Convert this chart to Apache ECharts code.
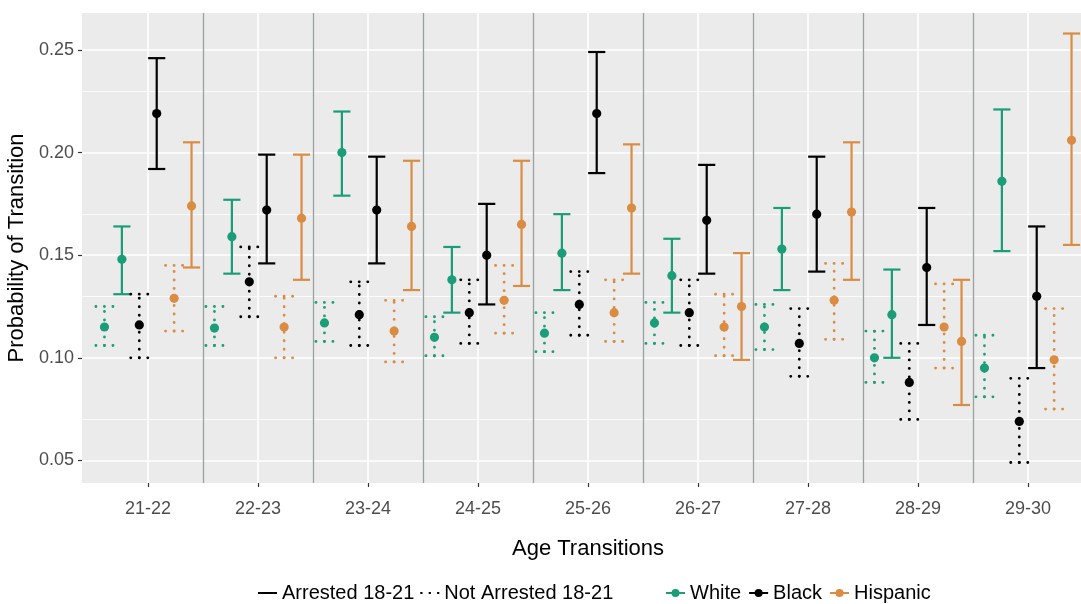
<!DOCTYPE html>
<html>
<head>
<meta charset="utf-8">
<script src="https://cdn.jsdelivr.net/npm/echarts@6/dist/echarts.min.js"></script>
<style>
  html, body { margin: 0; padding: 0; background: #fff; }
  #chart { width: 1081px; height: 604px; }
</style>
</head>
<body>
<div id="chart"></div>
<script>
// age transitions on the x axis
const categories = ['21-22', '22-23', '23-24', '24-25', '25-26', '26-27', '27-28', '28-29', '29-30'];
const yTicks = [0.05, 0.10, 0.15, 0.20, 0.25];
const yMinor = [0.075, 0.125, 0.175, 0.225];

// White, not arrested 18-21
const whiteNotMid  = [0.115, 0.1145, 0.117, 0.110, 0.112, 0.117, 0.115, 0.100, 0.095];
const whiteNotLow  = [0.106, 0.106, 0.108, 0.101, 0.103, 0.107, 0.104, 0.088, 0.081];
const whiteNotHigh = [0.125, 0.125, 0.127, 0.120, 0.122, 0.127, 0.126, 0.113, 0.111];
// White, arrested 18-21
const whiteArrMid  = [0.148, 0.159, 0.200, 0.138, 0.151, 0.140, 0.153, 0.121, 0.186];
const whiteArrLow  = [0.131, 0.141, 0.179, 0.122, 0.133, 0.122, 0.133, 0.100, 0.152];
const whiteArrHigh = [0.164, 0.177, 0.220, 0.154, 0.170, 0.158, 0.173, 0.143, 0.221];
// Black, not arrested 18-21
const blackNotMid  = [0.116, 0.137, 0.121, 0.122, 0.126, 0.122, 0.107, 0.088, 0.069];
const blackNotLow  = [0.100, 0.120, 0.106, 0.107, 0.111, 0.106, 0.091, 0.070, 0.049];
const blackNotHigh = [0.131, 0.154, 0.137, 0.138, 0.142, 0.138, 0.124, 0.107, 0.090];
// Black, arrested 18-21
const blackArrMid  = [0.219, 0.172, 0.172, 0.150, 0.219, 0.167, 0.170, 0.144, 0.130];
const blackArrLow  = [0.192, 0.146, 0.146, 0.126, 0.190, 0.141, 0.142, 0.116, 0.095];
const blackArrHigh = [0.246, 0.199, 0.198, 0.175, 0.249, 0.194, 0.198, 0.173, 0.164];
// Hispanic, not arrested 18-21
const hispNotMid  = [0.129, 0.115, 0.113, 0.128, 0.122, 0.115, 0.128, 0.115, 0.099];
const hispNotLow  = [0.113, 0.100, 0.098, 0.112, 0.108, 0.101, 0.109, 0.095, 0.075];
const hispNotHigh = [0.145, 0.130, 0.128, 0.145, 0.138, 0.131, 0.146, 0.136, 0.124];
// Hispanic, arrested 18-21
const hispArrMid  = [0.174, 0.168, 0.164, 0.165, 0.173, 0.125, 0.171, 0.108, 0.206];
const hispArrLow  = [0.144, 0.138, 0.133, 0.135, 0.141, 0.099, 0.138, 0.077, 0.155];
const hispArrHigh = [0.205, 0.199, 0.196, 0.196, 0.204, 0.151, 0.205, 0.138, 0.258];

const GREEN = '#1b9e77', BLACK = '#000000', ORANGE = '#d98c42';
const DODGE = 0.95;

function toRows(low, mid, high) {
  return categories.map(function (c, i) { return [i + 1, low[i], mid[i], high[i]]; });
}

// error bar with point, slot 0..5 inside the dodge group
function errorBar(name, slot, color, dotted, low, mid, high) {
  return {
    name: name,
    type: 'custom',
    z: 5,
    silent: true,
    data: toRows(low, mid, high),
    renderItem: function (params, api) {
      const band = api.size([1, 0])[0];
      const dx = (slot - 2.5) * DODGE / 6 * band;
      const half = 0.078 * band;
      const pLo = api.coord([api.value(0), api.value(1)]);
      const pMid = api.coord([api.value(0), api.value(2)]);
      const pHi = api.coord([api.value(0), api.value(3)]);
      const cx = pMid[0] + dx;
      const style = dotted
        ? { stroke: color, lineWidth: 2.8, lineDash: [0.1, 8.4], lineCap: 'round' }
        : { stroke: color, lineWidth: 2.2 };
      return {
        type: 'group',
        children: [
          { type: 'line', shape: { x1: cx, y1: pLo[1], x2: cx, y2: pHi[1] }, style: style },
          { type: 'line', shape: { x1: cx - half, y1: pHi[1], x2: cx + half, y2: pHi[1] }, style: style },
          { type: 'line', shape: { x1: cx - half, y1: pLo[1], x2: cx + half, y2: pLo[1] }, style: style },
          { type: 'circle', shape: { cx: cx, cy: pMid[1], r: 4.6 }, style: { fill: color } }
        ]
      };
    }
  };
}

// grid lines and category dividers
const gridLines = [];
yMinor.forEach(function (v) { gridLines.push({ yAxis: v, lineStyle: { color: '#ffffff', width: 0.8, type: 'solid' } }); });
yTicks.forEach(function (v) { gridLines.push({ yAxis: v, lineStyle: { color: '#ffffff', width: 1.6, type: 'solid' } }); });
categories.forEach(function (c, i) { gridLines.push({ xAxis: i + 1, lineStyle: { color: '#ffffff', width: 1.6, type: 'solid' } }); });
categories.slice(1).forEach(function (c, i) { gridLines.push({ xAxis: i + 1.5, lineStyle: { color: '#9aa0a0', width: 1.3, type: 'solid' } }); });

const solidIcon = 'path://M0,0L19,0L19,2L0,2Z';
const dottedIcon = 'path://M0,0h2.2v2.2h-2.2z M8.4,0h2.2v2.2h-2.2z M16.8,0h2.2v2.2h-2.2z';

const chart = echarts.init(document.getElementById('chart'));
chart.setOption({
  animation: false,
  backgroundColor: '#ffffff',
  textStyle: { fontFamily: 'Liberation Sans, Arial, sans-serif' },
  grid: {
    left: 82, top: 13, width: 1012, height: 470,
    containLabel: false, outerBoundsMode: 'none',
    show: true, backgroundColor: '#ebebeb', borderWidth: 0
  },
  xAxis: {
    type: 'value', min: 0.4, max: 9.6,
    name: 'Age Transitions', nameLocation: 'middle', nameGap: 55,
    nameTextStyle: { fontSize: 22, color: '#000' },
    axisLine: { show: false },
    splitLine: { show: false },
    axisTick: { show: true, customValues: [1, 2, 3, 4, 5, 6, 7, 8, 9], length: 4, lineStyle: { color: '#333', width: 1.2 } },
    axisLabel: {
      customValues: [1, 2, 3, 4, 5, 6, 7, 8, 9], fontSize: 18, color: '#4d4d4d', margin: 17,
      formatter: function (v) { return categories[Math.round(v) - 1]; }
    }
  },
  yAxis: {
    type: 'value', min: 0.039, max: 0.268,
    name: 'Probability of Transition', nameLocation: 'middle', nameGap: 49,
    nameTextStyle: { fontSize: 22, color: '#000' },
    axisLine: { show: false },
    splitLine: { show: false },
    axisTick: { show: true, customValues: yTicks, length: 4, lineStyle: { color: '#333', width: 1.2 } },
    axisLabel: {
      customValues: yTicks, fontSize: 18, color: '#4d4d4d', margin: 8,
      formatter: function (v) { return v.toFixed(2); }
    }
  },
  legend: [
    {
      left: 258, top: 583, padding: 0, itemGap: 6, itemWidth: 19, itemHeight: 10,
      textStyle: { fontSize: 20, color: '#000' }, selectedMode: false,
      data: [
        { name: 'Arrested 18-21', icon: solidIcon },
        { name: 'Not Arrested 18-21', icon: dottedIcon }
      ]
    },
    {
      left: 665, top: 583, padding: 0, itemGap: 7, itemWidth: 19, itemHeight: 10,
      textStyle: { fontSize: 20, color: '#000' }, selectedMode: false,
      data: ['White', 'Black', 'Hispanic']
    }
  ],
  series: [
    {
      name: 'grid', type: 'line', data: [], z: 1, silent: true,
      markLine: { silent: true, symbol: ['none', 'none'], label: { show: false }, animation: false, data: gridLines }
    },
    { name: 'Arrested 18-21', type: 'line', data: [], symbol: 'none', color: BLACK, itemStyle: { color: BLACK }, lineStyle: { color: BLACK, width: 2.2 } },
    { name: 'Not Arrested 18-21', type: 'line', data: [], symbol: 'none', color: BLACK, itemStyle: { color: BLACK }, lineStyle: { color: BLACK, width: 2.2 } },
    { name: 'White', type: 'line', data: [], symbol: 'circle', symbolSize: 8, color: GREEN, lineStyle: { color: GREEN, width: 2 } },
    { name: 'Black', type: 'line', data: [], symbol: 'circle', symbolSize: 8, color: BLACK, lineStyle: { color: BLACK, width: 2 } },
    { name: 'Hispanic', type: 'line', data: [], symbol: 'circle', symbolSize: 8, color: ORANGE, lineStyle: { color: ORANGE, width: 2 } },
    errorBar('White not arrested', 0, GREEN, true, whiteNotLow, whiteNotMid, whiteNotHigh),
    errorBar('White arrested', 1, GREEN, false, whiteArrLow, whiteArrMid, whiteArrHigh),
    errorBar('Black not arrested', 2, BLACK, true, blackNotLow, blackNotMid, blackNotHigh),
    errorBar('Black arrested', 3, BLACK, false, blackArrLow, blackArrMid, blackArrHigh),
    errorBar('Hispanic not arrested', 4, ORANGE, true, hispNotLow, hispNotMid, hispNotHigh),
    errorBar('Hispanic arrested', 5, ORANGE, false, hispArrLow, hispArrMid, hispArrHigh)
  ]
});
</script>
</body>
</html>
